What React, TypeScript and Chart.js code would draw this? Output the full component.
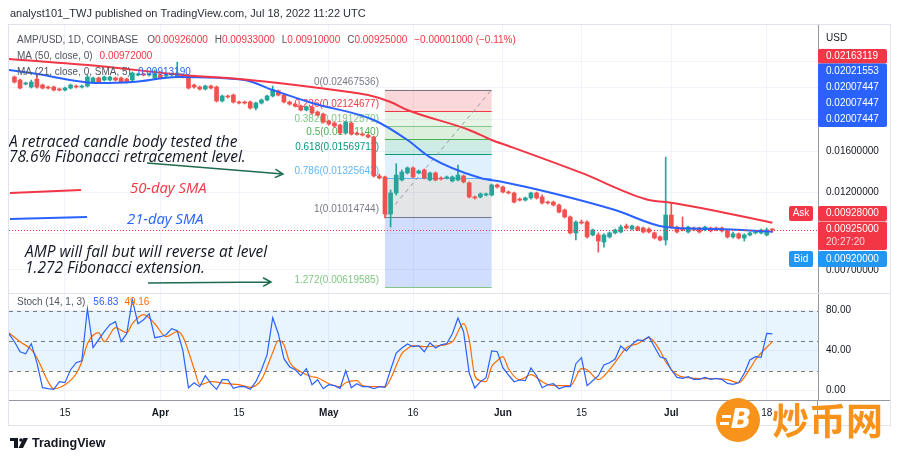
import React, { useEffect, useRef } from 'react';
import { Chart, registerables } from 'chart.js';

Chart.register(...registerables);

// ---------------- DATA (day index = days since 2022-03-01) ----------------
const FIRST_DAY = 5;
const opens = [
  0.02695, 0.02639, 0.02566, 0.02513, 0.02658, 0.02548, 0.02513, 0.02513, 0.02478, 0.02461,
  0.02495, 0.0253, 0.02513, 0.0253, 0.02602, 0.02676, 0.02639, 0.02639, 0.02676, 0.02676,
  0.02658, 0.02639, 0.02733, 0.02752, 0.02733, 0.02676, 0.02733, 0.02714, 0.02733, 0.02714,
  0.02733, 0.02714, 0.02548, 0.02513, 0.02478, 0.0253, 0.02513, 0.02279, 0.0236, 0.02376,
  0.02263, 0.02263, 0.02263, 0.0217, 0.02247, 0.02295, 0.0236, 0.02444, 0.02376, 0.02263,
  0.02231, 0.022, 0.0214, 0.02185, 0.0211, 0.0208, 0.01981, 0.01953, 0.01926, 0.01822,
  0.01953, 0.01822, 0.01809, 0.01796, 0.01772, 0.01349, 0.0134, 0.01034, 0.01198, 0.01312,
  0.01378, 0.01427, 0.01378, 0.01407, 0.01312, 0.01378, 0.0133, 0.0133, 0.01303, 0.01312,
  0.01349, 0.01285, 0.01165, 0.01165, 0.01181, 0.01181, 0.01267, 0.01249, 0.01206, 0.01198,
  0.01148, 0.0114, 0.01157, 0.01198, 0.01165, 0.01124, 0.01124, 0.01101, 0.01063, 0.01013,
  0.00906, 0.00978, 0.00978, 0.00893, 0.00893, 0.0085, 0.00881, 0.00906, 0.00912, 0.00951,
  0.00931, 0.00944, 0.00938, 0.00931, 0.00906, 0.00881, 0.00862, 0.01027, 0.00944, 0.00938,
  0.00912, 0.00938, 0.00938, 0.00925, 0.00938, 0.00938, 0.00938, 0.00919, 0.00881, 0.009,
  0.00874, 0.00893, 0.00906, 0.00906, 0.00893, 0.00926,
];
const highs = [
  0.02714, 0.02658, 0.02602, 0.02639, 0.02733, 0.02566, 0.0253, 0.0253, 0.02495, 0.02513,
  0.02566, 0.02548, 0.02548, 0.02733, 0.02695, 0.02695, 0.02714, 0.02714, 0.02695, 0.02695,
  0.02676, 0.02791, 0.02772, 0.02772, 0.02772, 0.02831, 0.02752, 0.02752, 0.02772, 0.0299,
  0.02752, 0.02733, 0.02566, 0.0253, 0.02548, 0.02548, 0.0253, 0.02376, 0.02376, 0.02393,
  0.02279, 0.02279, 0.02279, 0.02263, 0.02311, 0.02376, 0.0253, 0.02461, 0.02393, 0.02279,
  0.02247, 0.02215, 0.022, 0.022, 0.02125, 0.02095, 0.01995, 0.01967, 0.0194, 0.01981,
  0.01967, 0.01835, 0.01822, 0.01809, 0.01784, 0.01368, 0.01349, 0.01223, 0.0147, 0.01407,
  0.01437, 0.01437, 0.01407, 0.01417, 0.01387, 0.01387, 0.0134, 0.01349, 0.01349, 0.01457,
  0.01358, 0.01294, 0.01173, 0.01198, 0.01198, 0.01276, 0.01276, 0.01258, 0.01215, 0.01206,
  0.01157, 0.01165, 0.01206, 0.01206, 0.01181, 0.01132, 0.01132, 0.01109, 0.01071, 0.0102,
  0.00985, 0.00992, 0.00985, 0.00931, 0.00906, 0.009, 0.00912, 0.00931, 0.00957, 0.00964,
  0.00957, 0.00951, 0.00944, 0.00938, 0.00912, 0.00887, 0.01539, 0.01117, 0.00951, 0.01013,
  0.00951, 0.00944, 0.00944, 0.00951, 0.00944, 0.00944, 0.00944, 0.00925, 0.00912, 0.00906,
  0.009, 0.00912, 0.00919, 0.00931, 0.00938, 0.00933,
];
const lows = [
  0.02584, 0.02478, 0.02548, 0.02495, 0.02495, 0.02478, 0.02478, 0.02444, 0.02444, 0.02444,
  0.02478, 0.02495, 0.02495, 0.02513, 0.02584, 0.02584, 0.02621, 0.02621, 0.02621, 0.02584,
  0.02584, 0.02621, 0.02714, 0.02714, 0.02714, 0.02658, 0.02658, 0.02695, 0.02714, 0.02695,
  0.02676, 0.02478, 0.02495, 0.02461, 0.02461, 0.02478, 0.02263, 0.02263, 0.02327, 0.02247,
  0.02231, 0.02231, 0.02155, 0.0214, 0.02231, 0.02279, 0.02344, 0.0236, 0.02247, 0.02215,
  0.02185, 0.02125, 0.02125, 0.0208, 0.02052, 0.01953, 0.01926, 0.019, 0.01809, 0.01809,
  0.01796, 0.01796, 0.01784, 0.0176, 0.0134, 0.01321, 0.01006, 0.00944, 0.01181, 0.01303,
  0.01368, 0.0133, 0.01368, 0.01321, 0.01303, 0.01303, 0.01312, 0.01321, 0.01294, 0.01303,
  0.01285, 0.01157, 0.01148, 0.01157, 0.01173, 0.01173, 0.0124, 0.01198, 0.0119, 0.01117,
  0.01132, 0.01132, 0.01148, 0.01148, 0.01109, 0.01109, 0.01093, 0.01041, 0.01006, 0.009,
  0.00862, 0.00964, 0.00874, 0.00887, 0.00792, 0.0082, 0.00874, 0.009, 0.00906, 0.00931,
  0.00925, 0.00919, 0.00906, 0.00906, 0.00868, 0.00856, 0.00832, 0.00938, 0.00906, 0.00919,
  0.00906, 0.00919, 0.00906, 0.00919, 0.00912, 0.00919, 0.00912, 0.00874, 0.00874, 0.00868,
  0.00856, 0.00887, 0.009, 0.009, 0.00887, 0.0091,
];
const closes = [
  0.02602, 0.02495, 0.02584, 0.02602, 0.02513, 0.02495, 0.02495, 0.02461, 0.02461, 0.02495,
  0.02548, 0.02513, 0.0253, 0.02695, 0.02676, 0.02602, 0.02695, 0.02695, 0.02639, 0.02602,
  0.02602, 0.02772, 0.02752, 0.02733, 0.02752, 0.02752, 0.02676, 0.02733, 0.02752, 0.02772,
  0.02695, 0.02495, 0.02513, 0.02478, 0.0253, 0.02495, 0.02279, 0.0236, 0.02344, 0.02263,
  0.02247, 0.02247, 0.0217, 0.02247, 0.02295, 0.0236, 0.02461, 0.02376, 0.02263, 0.02231,
  0.022, 0.0214, 0.02185, 0.02095, 0.02066, 0.01967, 0.0194, 0.01913, 0.01822, 0.01967,
  0.01809, 0.01809, 0.01796, 0.01772, 0.01349, 0.0133, 0.01034, 0.01198, 0.01358, 0.01387,
  0.01427, 0.0134, 0.01397, 0.0133, 0.01378, 0.01312, 0.01321, 0.0134, 0.0134, 0.01358,
  0.01294, 0.01165, 0.01157, 0.0119, 0.0119, 0.01267, 0.01249, 0.01206, 0.01198, 0.01124,
  0.0114, 0.01157, 0.01198, 0.01157, 0.01117, 0.01117, 0.01101, 0.01048, 0.01013, 0.00906,
  0.00978, 0.00971, 0.00881, 0.00925, 0.00856, 0.00893, 0.00906, 0.00925, 0.00944, 0.00938,
  0.00951, 0.00925, 0.00912, 0.00912, 0.00874, 0.00862, 0.01027, 0.00944, 0.00912, 0.00925,
  0.00944, 0.00925, 0.00912, 0.00944, 0.00919, 0.00925, 0.00919, 0.00881, 0.009, 0.00874,
  0.00893, 0.00906, 0.00912, 0.00925, 0.00926, 0.00925,
];

const ma50Days = [4, 20, 35, 45, 52, 62, 68, 72, 75, 86, 90, 93, 106, 118, 121, 130, 140];
const ma50Values = [0.03057, 0.02911, 0.02733, 0.02658, 0.02584, 0.02461, 0.02376, 0.02263, 0.0214,
  0.01861, 0.01735, 0.01664, 0.01378, 0.0114, 0.01124, 0.01056, 0.00972];
const ma21Days = [4, 8, 20, 26, 34, 46, 51, 58, 69, 75, 79, 88, 92, 100, 112, 121, 130, 140];
const ma21Values = [0.02831, 0.02772, 0.02584, 0.02602, 0.02695, 0.02639, 0.02461, 0.02247, 0.01995,
  0.01735, 0.01539, 0.0133, 0.01294, 0.01206, 0.01063, 0.00944, 0.00931, 0.0091319];

const K_FIRST_DAY = 4;
const stochK = [
  57, 49, 39, 37, 47, 28, 3, 2, 1.4, 9,
  8, 21, 28, 30, 82, 43, 51, 59, 66, 69,
  49, 57, 91, 67, 71, 77, 53, 54, 56, 62,
  60, 40, 3, 8, 4, 15, 7, 1.4, 11, 11,
  2.4, 4, 4, 1.4, 9, 21, 36, 73, 57, 32,
  24, 21, 15, 22, 6, 11, 2, 6, 5, 2.4,
  20, 3, 7, 4, 4, 2, 4, 3.4, 21, 37.7,
  42.7, 46.7, 44, 45, 39, 48, 42.7, 46, 47, 57,
  72.7, 59, 17.7, 2.7, 9, 13, 39.7, 39, 23, 15.7,
  9, 10.7, 10, 22.7, 15, 3, 6, 7, 2, 4,
  4, 27, 33, 5, 10, 15, 25.7, 28, 31.7, 44.7,
  39.7, 46.3, 50.7, 50, 54, 44, 34, 32, 20.7, 13.3,
  12.3, 14, 11.3, 11.3, 13.3, 11.3, 12.3, 11.3, 7.3, 6.3,
  8, 17.3, 30.7, 34, 33.3, 57.3, 56.83,
];
const stochDDays = [4, 6, 8, 9, 11, 12, 14, 16, 17, 18, 20, 21, 23, 25, 26, 28, 30, 32, 34, 35,
  37, 38, 40, 43, 45, 47, 49, 51, 52, 53, 54, 56, 58, 59, 61, 63, 64, 66, 67, 69,
  71, 72, 73, 74, 75, 76, 78, 80, 83, 85, 86, 87, 88, 89, 90, 91, 92, 93, 95, 97,
  99, 100, 102, 104, 106, 107, 109, 111, 113, 114, 116, 118, 120, 121, 123, 125, 127, 130, 132, 134,
  136, 137, 140];
const stochDValues = [58, 49, 41, 33, 9, 2, 6, 17, 29, 47, 58, 49, 63, 58, 67, 76, 67, 54, 59, 54,
  22, 6, 9, 7, 6, 3.4, 11, 38, 50, 46, 29, 19, 14, 13, 7, 4, 8, 10, 5, 4,
  4, 12, 25, 37, 42, 45, 44, 44.7, 49, 67, 51, 15, 10, 9, 24, 30, 34, 22, 11, 16,
  9, 6, 5, 5, 22, 21, 11, 21, 36, 43, 47, 53, 40, 29, 16, 13, 12, 12, 11, 8,
  22, 31, 49.16];

const fibRatios = [0, 0.236, 0.382, 0.5, 0.618, 0.786, 1, 1.272];
const fibPrices = [0.02467536, 0.02124677, 0.0191257, 0.0174114, 0.01569711, 0.01325642, 0.01014744, 0.00619585];
const FIB_START_DAY = 71;
const FIB_END_DAY = 90;

const xTickDays = [14, 31, 45, 61, 76, 92, 106, 122, 139];
const xTickLabels = ['15', 'Apr', '15', 'May', '16', 'Jun', '15', 'Jul', '18'];
const priceTicks = [0.007, 0.009, 0.012, 0.016, 0.02, 0.025, 0.03];
const priceTicksLabelled = [0.007, 0.012, 0.016];
const stochTicks = [0, 40, 80];
const stochBands = [80, 50, 20];

const askPrice = 0.00928;
const bidPrice = 0.0092;
const countdown = '20:27:20';
const drawingTags = ['0.02163119', '0.02021553', '0.02007447', '0.02007447', '0.02007447'];

// ---------------- STYLE ----------------
const FONT = '"Liberation Sans", Arial, sans-serif';
const NOTE_FONT = 'italic 15.5px "Open Sans", sans-serif';
const UP = '#26a69a';
const DOWN = '#ef5350';
const RED = '#f23645';
const BLUE = '#2962ff';
const ORANGE = '#ff6d00';
const TEXT = '#131722';
const GRAY = '#50535e';
const GRID = '#f0f3fa';
const AXIS = '#9598a1';
const FIB_LINES = ['#787b86', '#f23645', '#81c784', '#4caf50', '#089981', '#64b5f6', '#787b86', '#81c784'];
const FIB_FILLS = ['', 'rgba(242,54,69,0.2)', 'rgba(129,199,132,0.2)', 'rgba(76,175,80,0.2)', 'rgba(8,153,129,0.2)',
  'rgba(100,181,246,0.2)', 'rgba(120,123,134,0.2)', 'rgba(41,98,255,0.22)'];

const X_MIN = 4.03;
const X_MAX = 148.13;
const PRICE_MIN = 0.0059514;
const PRICE_MAX = 0.038775;
const STOCH_MIN = -9.3;
const STOCH_MAX = 97.7;

const days = opens.map((_, i) => FIRST_DAY + i);
const candleColors = opens.map((o, i) => (closes[i] >= o ? UP : DOWN));

function runs(ctx: any, x: number, y: number, parts: [string, string, number][]) {
  let cx = x;
  for (const [t, c, gap] of parts) {
    ctx.fillStyle = c;
    ctx.fillText(t, cx, y);
    cx += ctx.measureText(t).width + gap;
  }
}

function rrect(ctx: any, x: number, y: number, w: number, h: number, r: number) {
  ctx.beginPath();
  ctx.moveTo(x + r, y);
  ctx.lineTo(x + w - r, y);
  ctx.quadraticCurveTo(x + w, y, x + w, y + r);
  ctx.lineTo(x + w, y + h - r);
  ctx.quadraticCurveTo(x + w, y + h, x + w - r, y + h);
  ctx.lineTo(x + r, y + h);
  ctx.quadraticCurveTo(x, y + h, x, y + h - r);
  ctx.lineTo(x, y + r);
  ctx.quadraticCurveTo(x, y, x + r, y);
  ctx.closePath();
}

function arrow(ctx: any, x1: number, y1: number, x2: number, y2: number) {
  ctx.beginPath();
  ctx.moveTo(x1, y1);
  ctx.lineTo(x2, y2);
  const a = Math.atan2(y2 - y1, x2 - x1);
  const L = 9;
  ctx.moveTo(x2 - L * Math.cos(a - 0.5), y2 - L * Math.sin(a - 0.5));
  ctx.lineTo(x2, y2);
  ctx.lineTo(x2 - L * Math.cos(a + 0.5), y2 - L * Math.sin(a + 0.5));
  ctx.stroke();
}

const fmt8 = (v: number) => v.toFixed(8);

const mainOverlay = {
  id: 'mainOverlay',
  beforeDatasetsDraw(chart: any) {
    const { ctx, chartArea: a, scales } = chart;
    const xs = scales.x;
    const ys = scales.y;
    ctx.save();
    ctx.beginPath();
    ctx.rect(a.left, a.top, a.right - a.left, a.bottom - a.top);
    ctx.clip();
    const x0 = xs.getPixelForValue(FIB_START_DAY);
    const x1 = xs.getPixelForValue(FIB_END_DAY);
    const py = fibPrices.map((p) => ys.getPixelForValue(p));
    for (let i = 1; i < py.length; i++) {
      ctx.fillStyle = FIB_FILLS[i];
      ctx.fillRect(x0, py[i - 1], x1 - x0, py[i] - py[i - 1]);
    }
    ctx.lineWidth = 1;
    py.forEach((yy, i) => {
      ctx.strokeStyle = FIB_LINES[i];
      ctx.beginPath();
      ctx.moveTo(x0, Math.round(yy) + 0.5);
      ctx.lineTo(x1, Math.round(yy) + 0.5);
      ctx.stroke();
    });
    ctx.setLineDash([4, 4]);
    ctx.strokeStyle = '#9598a1';
    ctx.beginPath();
    ctx.moveTo(x0, py[6]);
    ctx.lineTo(x1, py[0]);
    ctx.stroke();
    ctx.setLineDash([]);
    ctx.font = '10px ' + FONT;
    ctx.textAlign = 'right';
    ctx.textBaseline = 'bottom';
    fibRatios.forEach((r, i) => {
      ctx.fillStyle = FIB_LINES[i];
      ctx.fillText(`${r}(${fmt8(fibPrices[i])})`, x0 - 6, py[i] - 2);
    });
    ctx.restore();
  },
  afterDatasetsDraw(chart: any) {
    const { ctx, chartArea: a, scales } = chart;
    const y = Math.round(scales.y.getPixelForValue(closes[closes.length - 1])) + 0.5;
    ctx.save();
    ctx.strokeStyle = RED;
    ctx.lineWidth = 1;
    ctx.setLineDash([1, 2]);
    ctx.beginPath();
    ctx.moveTo(a.left, y);
    ctx.lineTo(a.right, y);
    ctx.stroke();
    ctx.restore();
  },
  afterDraw(chart: any) {
    const { ctx } = chart;
    const n = closes.length;
    ctx.save();
    // legend
    ctx.font = '10px ' + FONT;
    ctx.textBaseline = 'middle';
    ctx.textAlign = 'left';
    const chg = closes[n - 1] - closes[n - 2];
    const pct = (chg / closes[n - 2]) * 100;
    const minus = (s: string) => s.replace('-', '\u2212');
    runs(ctx, 17, 40, [
      ['AMP/USD, 1D, COINBASE', GRAY, 9],
      ['O', GRAY, 0], [fmt8(opens[n - 1]), RED, 7],
      ['H', GRAY, 0], [fmt8(highs[n - 1]), RED, 7],
      ['L', GRAY, 0], [fmt8(lows[n - 1]), RED, 7],
      ['C', GRAY, 0], [fmt8(closes[n - 1]), RED, 7],
      [minus(chg.toFixed(8)) + ' (' + minus(pct.toFixed(2)) + '%)', RED, 0],
    ]);
    runs(ctx, 17, 56, [['MA (50, close, 0)', GRAY, 7], [fmt8(ma50Values[ma50Values.length - 1]), RED, 0]]);
    runs(ctx, 17, 72, [['MA (21, close, 0, SMA, 5)', GRAY, 7], [fmt8(ma21Values[ma21Values.length - 1]), BLUE, 0]]);

    // annotations
    ctx.font = NOTE_FONT;
    ctx.fillStyle = TEXT;
    ctx.fillText('A retraced candle body tested the', 9, 142.5);
    ctx.fillText('78.6% Fibonacci retracement level.', 9, 158);
    ctx.fillText('AMP will fall but will reverse at level', 25, 253);
    ctx.fillText('1.272 Fibonacci extension.', 25, 268.5);
    ctx.font = 'italic 14.8px "Open Sans", sans-serif';
    ctx.fillStyle = RED;
    ctx.fillText('50-day SMA', 130, 189);
    ctx.fillStyle = BLUE;
    ctx.fillText('21-day SMA', 127, 220);
    ctx.lineWidth = 2;
    ctx.strokeStyle = RED;
    ctx.beginPath(); ctx.moveTo(10, 193); ctx.lineTo(81, 190); ctx.stroke();
    ctx.strokeStyle = BLUE;
    ctx.beginPath(); ctx.moveTo(10, 219); ctx.lineTo(87, 217); ctx.stroke();
    ctx.strokeStyle = '#1f6b4d';
    ctx.lineWidth = 1.5;
    arrow(ctx, 147, 163, 283, 174);
    arrow(ctx, 148, 283, 271, 282);

    // right-axis tags
    ctx.font = '10px ' + FONT;
    ctx.fillStyle = TEXT;
    ctx.fillText('USD', 826, 38);
    ctx.fillStyle = RED;
    rrect(ctx, 818, 49, 69, 14.5, 2); ctx.fill();
    ctx.fillStyle = BLUE;
    rrect(ctx, 818, 63.5, 69, 63.5, 2); ctx.fill();
    ctx.fillStyle = '#ffffff';
    ctx.fillText(drawingTags[0], 826, 56.5);
    for (let i = 1; i < drawingTags.length; i++) ctx.fillText(drawingTags[i], 826, 71.5 + (i - 1) * 15.9);

    ctx.fillStyle = RED;
    rrect(ctx, 818, 206, 69, 15, 2); ctx.fill();
    rrect(ctx, 818, 221.5, 69, 28.5, 2); ctx.fill();
    rrect(ctx, 789, 206, 24, 15, 2); ctx.fill();
    ctx.fillStyle = '#2196f3';
    rrect(ctx, 818, 251, 69, 16, 2); ctx.fill();
    rrect(ctx, 789, 251, 24, 16, 2); ctx.fill();
    ctx.fillStyle = '#ffffff';
    ctx.fillText(fmt8(askPrice), 826, 213.5);
    ctx.fillText(fmt8(closes[n - 1]), 826, 229);
    ctx.fillStyle = 'rgba(255,255,255,0.8)';
    ctx.fillText(countdown, 826, 242.5);
    ctx.fillStyle = '#ffffff';
    ctx.fillText(fmt8(bidPrice), 826, 259);
    ctx.textAlign = 'center';
    ctx.fillText('Ask', 801, 213.5);
    ctx.fillText('Bid', 801, 259);
    ctx.restore();
  },
};

const stochOverlay = {
  id: 'stochOverlay',
  beforeDatasetsDraw(chart: any) {
    const { ctx, chartArea: a, scales } = chart;
    const ys = scales.y;
    ctx.save();
    const yTop = ys.getPixelForValue(stochBands[0]);
    const yBot = ys.getPixelForValue(stochBands[2]);
    ctx.fillStyle = 'rgba(33,150,243,0.1)';
    ctx.fillRect(a.left, yTop, a.right - a.left, yBot - yTop);
    ctx.strokeStyle = '#787b86';
    ctx.lineWidth = 1;
    ctx.setLineDash([4, 4]);
    stochBands.forEach((v) => {
      const y = Math.round(ys.getPixelForValue(v)) + 0.5;
      ctx.beginPath();
      ctx.moveTo(a.left, y);
      ctx.lineTo(a.right, y);
      ctx.stroke();
    });
    ctx.restore();
  },
  afterDraw(chart: any) {
    const { ctx } = chart;
    ctx.save();
    // frame and separators
    ctx.strokeStyle = '#e0e3eb';
    ctx.lineWidth = 1;
    ctx.strokeRect(8.5, 24.5, 882, 401);
    ctx.beginPath();
    ctx.moveTo(9, 293.5); ctx.lineTo(890, 293.5);
    ctx.stroke();
    ctx.strokeStyle = AXIS;
    ctx.beginPath();
    ctx.moveTo(818, 400.5); ctx.lineTo(890, 400.5);
    ctx.moveTo(817.5, 400); ctx.lineTo(817.5, 425);
    ctx.stroke();

    // title
    ctx.textBaseline = 'middle';
    ctx.textAlign = 'left';
    ctx.font = '11px ' + FONT;
    ctx.fillStyle = '#2a2e39';
    ctx.fillText('analyst101_TWJ published on TradingView.com, Jul 18, 2022 11:22 UTC', 10, 14);

    // stoch legend
    ctx.font = '10px ' + FONT;
    runs(ctx, 17, 302, [
      ['Stoch (14, 1, 3)', GRAY, 8],
      [stochK[stochK.length - 1].toFixed(2), BLUE, 6],
      [stochDValues[stochDValues.length - 1].toFixed(2), ORANGE, 0],
    ]);

    // TradingView logo
    ctx.fillStyle = TEXT;
    ctx.fillRect(10, 438, 8, 3);
    ctx.fillRect(14, 438, 4, 10);
    ctx.beginPath(); ctx.arc(21, 440, 1.8, 0, Math.PI * 2); ctx.fill();
    ctx.beginPath();
    ctx.moveTo(23.5, 438); ctx.lineTo(28, 438); ctx.lineTo(23, 448); ctx.lineTo(18.5, 448);
    ctx.closePath(); ctx.fill();
    ctx.font = '600 12.5px ' + FONT;
    ctx.fillText('TradingView', 32, 443.5);

    // watermark
    ctx.fillStyle = '#f7931a';
    ctx.beginPath(); ctx.arc(738, 420, 22, 0, Math.PI * 2); ctx.fill();
    ctx.fillStyle = '#ffffff';
    ctx.font = 'italic bold 27px "DejaVu Sans", sans-serif';
    ctx.textAlign = 'center';
    ctx.fillText('B', 741, 421);
    ctx.fillRect(722, 415, 9, 3);
    ctx.fillRect(720, 422, 9, 3);
    ctx.fillStyle = '#f7931a';
    ctx.textAlign = 'left';
    ctx.font = 'bold 37px "Noto Sans CJK SC", sans-serif';
    ctx.fillText('炒币网', 772, 421);
    ctx.restore();
  },
};

export default function App() {
  const mainRef = useRef<HTMLCanvasElement>(null);
  const stochRef = useRef<HTMLCanvasElement>(null);

  useEffect(() => {
    const main = new Chart(mainRef.current as HTMLCanvasElement, {
      type: 'bar',
      data: {
        datasets: [
          {
            type: 'line',
            data: ma50Days.map((d, i) => ({ x: d, y: ma50Values[i] })),
            borderColor: RED,
            borderWidth: 2,
            pointRadius: 0,
            cubicInterpolationMode: 'monotone',
            order: 0,
          } as any,
          {
            type: 'line',
            data: ma21Days.map((d, i) => ({ x: d, y: ma21Values[i] })),
            borderColor: BLUE,
            borderWidth: 2,
            pointRadius: 0,
            cubicInterpolationMode: 'monotone',
            order: 1,
          } as any,
          {
            type: 'bar',
            data: days.map((d, i) => ({ x: d, y: [opens[i], closes[i]] })),
            backgroundColor: candleColors,
            borderWidth: 0,
            barThickness: 4,
            minBarLength: 1,
            grouped: false,
            order: 2,
          } as any,
          {
            type: 'bar',
            data: days.map((d, i) => ({ x: d, y: [lows[i], highs[i]] })),
            backgroundColor: candleColors,
            borderWidth: 0,
            barThickness: 1,
            grouped: false,
            order: 3,
          } as any,
        ],
      },
      options: {
        responsive: false,
        animation: false,
        devicePixelRatio: 1,
        events: [],
        layout: { padding: { left: 9, right: 0, top: 25, bottom: 166 } },
        plugins: { legend: { display: false }, tooltip: { enabled: false } },
        scales: {
          x: {
            type: 'linear',
            min: X_MIN,
            max: X_MAX,
            offset: false,
            afterBuildTicks: (s: any) => { s.ticks = xTickDays.map((v) => ({ value: v })); },
            ticks: { display: false },
            grid: { color: GRID, drawTicks: false, offset: false },
            border: { display: false },
            afterFit: (s: any) => { s.height = 0; },
          },
          y: {
            type: 'logarithmic',
            position: 'right',
            min: PRICE_MIN,
            max: PRICE_MAX,
            bounds: 'data',
            afterBuildTicks: (s: any) => { s.ticks = priceTicks.map((v) => ({ value: v })); },
            ticks: {
              autoSkip: false,
              padding: 8,
              color: TEXT,
              font: { size: 10, family: FONT },
              callback: (v: any) => (priceTicksLabelled.includes(Number(v)) ? Number(v).toFixed(8) : ''),
            },
            grid: { color: GRID, drawTicks: false },
            border: { display: true, color: AXIS },
            afterFit: (s: any) => { s.width = 82; },
          },
        },
      } as any,
      plugins: [mainOverlay],
    });

    const stoch = new Chart(stochRef.current as HTMLCanvasElement, {
      type: 'line',
      data: {
        datasets: [
          {
            data: stochK.map((v, i) => ({ x: K_FIRST_DAY + i, y: v })),
            borderColor: BLUE,
            borderWidth: 1.2,
            pointRadius: 0,
            tension: 0,
          },
          {
            data: stochDDays.map((d, i) => ({ x: d, y: stochDValues[i] })),
            borderColor: ORANGE,
            borderWidth: 1.2,
            pointRadius: 0,
            cubicInterpolationMode: 'monotone',
          } as any,
        ],
      },
      options: {
        responsive: false,
        animation: false,
        devicePixelRatio: 1,
        events: [],
        layout: { padding: { left: 9, right: 0, top: 293, bottom: 39 } },
        plugins: { legend: { display: false }, tooltip: { enabled: false } },
        scales: {
          x: {
            type: 'linear',
            min: X_MIN,
            max: X_MAX,
            afterBuildTicks: (s: any) => { s.ticks = xTickDays.map((v) => ({ value: v })); },
            ticks: {
              autoSkip: false,
              maxRotation: 0,
              padding: 7,
              color: TEXT,
              font: (c: any) => ({ size: 10, family: FONT, weight: isNaN(Number(xTickLabels[c.index])) ? 'bold' : 'normal' }),
              callback: (_v: any, i: number) => xTickLabels[i],
            },
            grid: { color: GRID, drawTicks: false },
            border: { display: true, color: AXIS },
            afterFit: (s: any) => { s.height = 20; },
          },
          y: {
            type: 'linear',
            position: 'right',
            min: STOCH_MIN,
            max: STOCH_MAX,
            afterBuildTicks: (s: any) => { s.ticks = stochTicks.map((v) => ({ value: v })); },
            ticks: {
              autoSkip: false,
              padding: 8,
              color: TEXT,
              font: { size: 10, family: FONT },
              callback: (v: any) => Number(v).toFixed(2),
            },
            grid: { color: GRID, drawTicks: false },
            border: { display: true, color: AXIS },
            afterFit: (s: any) => { s.width = 82; },
          },
        },
      } as any,
      plugins: [stochOverlay],
    });

    return () => {
      main.destroy();
      stoch.destroy();
    };
  }, []);

  return (
    <div style={{ position: 'fixed', left: 0, top: 0, width: 900, height: 459, background: '#ffffff' }}>
      <canvas ref={mainRef} width={900} height={459} style={{ position: 'absolute', left: 0, top: 0 }} />
      <canvas ref={stochRef} width={900} height={459} style={{ position: 'absolute', left: 0, top: 0 }} />
    </div>
  );
}
